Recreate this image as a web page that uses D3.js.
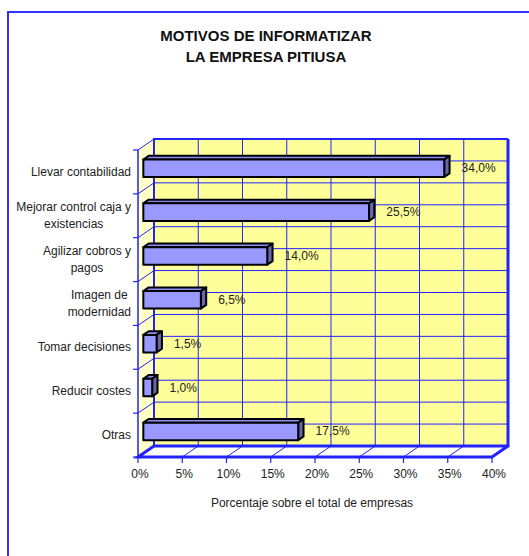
<html>
<head>
  <meta charset="utf-8">
  <title>Motivos de informatizar la empresa pitiusa</title>
  <script src="https://cdn.jsdelivr.net/npm/d3@7/dist/d3.min.js"></script>
  <style>
    body { margin: 0; background: #fff; }
    text { font-family: Arial, "Liberation Sans", sans-serif; fill: #222; }
  </style>
</head>
<body>
<div id="chart"></div>
<script>
// data
var categories = [
  "Llevar contabilidad",
  "Mejorar control caja y\nexistencias",
  "Agilizar cobros y\npagos",
  "Imagen de\nmodernidad",
  "Tomar decisiones",
  "Reducir costes",
  "Otras"
];
var values = [34.0, 25.5, 14.0, 6.5, 1.5, 1.0, 17.5];
var xTicks = [0, 5, 10, 15, 20, 25, 30, 35, 40];
var title = ["MOTIVOS DE INFORMATIZAR", "LA EMPRESA PITIUSA"];
var xTitle = "Porcentaje sobre el total de empresas";

var W = 529, H = 556;
var blue = "#2222ff";

// depth of the 3d box (back wall is shifted by dx, dy)
var dx = 16, dy = -11;

var svg = d3.select("#chart").append("svg")
  .attr("width", W).attr("height", H);

// outer frame
svg.append("path")
  .attr("d", "M8," + H + "V12H" + W)
  .attr("fill", "none").attr("stroke", "#3333ff").attr("stroke-width", 2);

// title
svg.selectAll(".title").data(title).enter().append("text")
  .attr("x", 266).attr("y", function(d, i) { return 41 + i * 21; })
  .attr("text-anchor", "middle")
  .attr("font-weight", "bold").attr("font-size", "15px")
  .style("fill", "#111")
  .text(function(d) { return d; });

// scales on the front plane
var x = d3.scaleLinear().domain([0, 40]).range([138, 492]);
var y = d3.scaleBand().domain(categories).range([150, 457]);

var x0 = x(0), x1 = x(40), y0 = 150, y1 = 457;

// back wall
svg.append("rect")
  .attr("x", x0 + dx).attr("y", y0 + dy)
  .attr("width", x1 - x0).attr("height", y1 - y0)
  .attr("fill", "#ffff99");

// left wall
svg.append("polygon")
  .attr("points", [[x0, y0], [x0 + dx, y0 + dy], [x0 + dx, y1 + dy], [x0, y1]].join(" "))
  .attr("fill", "#ffffc8");

// floor
svg.append("polygon")
  .attr("points", [[x0, y1], [x1, y1], [x1 + dx, y1 + dy], [x0 + dx, y1 + dy]].join(" "))
  .attr("fill", "#fff");

// back wall horizontal grid (band edges and centres)
var hLines = [];
categories.forEach(function(c) {
  hLines.push(y(c));
  hLines.push(y(c) + y.bandwidth() / 2);
});
hLines.push(y1);
svg.append("g").selectAll("line").data(hLines).enter().append("line")
  .attr("x1", x0 + dx).attr("x2", x1 + dx)
  .attr("y1", function(d) { return d + dy; })
  .attr("y2", function(d) { return d + dy; })
  .attr("stroke", blue).attr("stroke-width", 1);

// back wall vertical grid
svg.append("g").selectAll("line").data(xTicks).enter().append("line")
  .attr("x1", function(d) { return x(d) + dx; })
  .attr("x2", function(d) { return x(d) + dx; })
  .attr("y1", y0 + dy).attr("y2", y1 + dy)
  .attr("stroke", blue).attr("stroke-width", 1);

// floor diagonals + ticks
svg.append("g").selectAll("line").data(xTicks).enter().append("line")
  .attr("x1", function(d) { return x(d); })
  .attr("x2", function(d) { return x(d) + dx; })
  .attr("y1", y1).attr("y2", y1 + dy)
  .attr("stroke", blue).attr("stroke-width", 1);
svg.append("g").selectAll("line").data(xTicks).enter().append("line")
  .attr("x1", function(d) { return x(d); })
  .attr("x2", function(d) { return x(d); })
  .attr("y1", y1).attr("y2", y1 + 6)
  .attr("stroke", blue).attr("stroke-width", 1.2);

// left wall diagonals + ticks at band edges
var edges = categories.map(function(c) { return y(c); }).concat([y1]);
svg.append("g").selectAll("line").data(edges).enter().append("line")
  .attr("x1", x0).attr("x2", x0 + dx)
  .attr("y1", function(d) { return d; })
  .attr("y2", function(d) { return d + dy; })
  .attr("stroke", blue).attr("stroke-width", 1);
svg.append("g").selectAll("line").data(edges).enter().append("line")
  .attr("x1", x0 - 5).attr("x2", x0)
  .attr("y1", function(d) { return d; })
  .attr("y2", function(d) { return d; })
  .attr("stroke", blue).attr("stroke-width", 1.2);

// box outlines
var thick = svg.append("g").attr("fill", "none").attr("stroke", blue);
thick.append("path")
  .attr("d", "M" + (x0 + dx) + "," + (y1 + dy) + "V" + (y0 + dy) + "H" + (x1 + dx))
  .attr("stroke-width", 2);
thick.append("path")
  .attr("d", "M" + x0 + "," + y0 + "V" + y1)
  .attr("stroke-width", 1.5);
thick.append("path")
  .attr("d", "M" + (x1 + dx) + "," + (y0 + dy) + "V" + (y1 + dy) + "H" + (x0 + dx) +
    "L" + x0 + "," + y1 + "H" + x1 + "L" + (x1 + dx) + "," + (y1 + dy))
  .attr("stroke-width", 3).attr("stroke-linejoin", "miter");

// 3d bars, placed at a third of the depth
var bd1 = 1 / 3, bd2 = 2 / 3;
var barH = y.bandwidth() * 0.4;
var bars = svg.append("g").attr("stroke", "#000").attr("stroke-width", 2)
  .attr("stroke-linejoin", "round")
  .selectAll("g").data(values).enter().append("g");

function pt(px, py, d) { return [px + dx * d, py + dy * d]; }

bars.each(function(v, i) {
  var g = d3.select(this);
  var cy = y(categories[i]) + y.bandwidth() / 2;
  var top = cy - barH / 2, bot = cy + barH / 2;
  var xa = x(0), xb = x(v);
  var f = [pt(xa, top, bd1), pt(xb, top, bd1), pt(xb, bot, bd1), pt(xa, bot, bd1)];
  var t = [pt(xa, top, bd1), pt(xb, top, bd1), pt(xb, top, bd2), pt(xa, top, bd2)];
  var s = [pt(xb, top, bd1), pt(xb, top, bd2), pt(xb, bot, bd2), pt(xb, bot, bd1)];
  g.append("polygon").attr("points", t.join(" ")).attr("fill", "#8c8cf0");
  g.append("polygon").attr("points", s.join(" ")).attr("fill", "#6666aa");
  g.append("polygon").attr("points", f.join(" ")).attr("fill", "#9999ff");
});

// value labels
var fmt = d3.format(".1f");
svg.append("g").selectAll("text").data(values).enter().append("text")
  .attr("x", function(d) { return x(d) + dx * bd2 + 12; })
  .attr("y", function(d, i) { return y(categories[i]) + y.bandwidth() / 2 + dy * bd1 + 4; })
  .attr("font-size", "12px")
  .text(function(d) { return fmt(d).replace(".", ",") + "%"; });

// category labels
var catG = svg.append("g").selectAll("g").data(categories).enter().append("g");
catG.each(function(c) {
  var lines = c.split("\n");
  var g = d3.select(this);
  var cy = y(c) + y.bandwidth() / 2;
  var texts = g.selectAll("text").data(lines).enter().append("text")
    .attr("font-size", "12px")
    .attr("y", function(d, i) { return cy + 4 + (i - (lines.length - 1) / 2) * 17; })
    .text(function(d) { return d; });
  var maxW = 0;
  texts.each(function() { maxW = Math.max(maxW, this.getComputedTextLength()); });
  texts.attr("text-anchor", "middle").attr("x", 131 - maxW / 2);
});

// x tick labels
svg.append("g").selectAll("text").data(xTicks).enter().append("text")
  .attr("x", function(d) { return x(d) + 2; })
  .attr("y", 478)
  .attr("text-anchor", "middle")
  .attr("font-size", "12px")
  .text(function(d) { return d + "%"; });

// x axis title
svg.append("text")
  .attr("x", 312).attr("y", 507)
  .attr("text-anchor", "middle")
  .attr("font-size", "12px")
  .text(xTitle);
</script>
</body>
</html>
